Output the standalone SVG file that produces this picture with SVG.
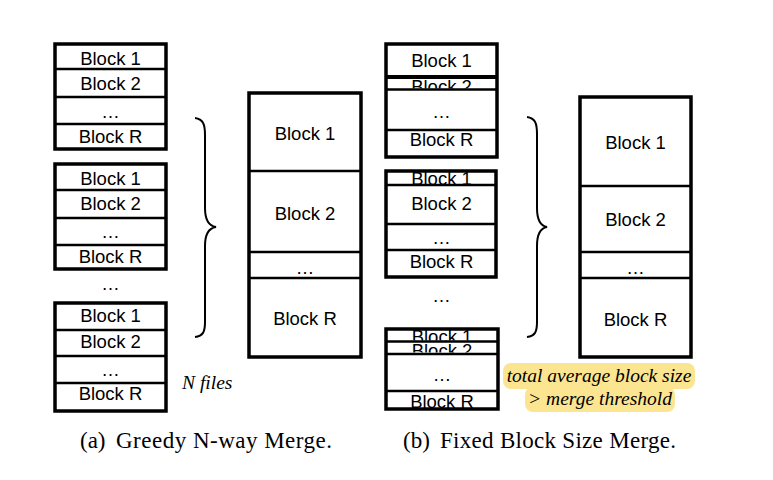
<svg xmlns="http://www.w3.org/2000/svg" width="773" height="480" viewBox="0 0 773 480">
<style>
.ob{fill:none;stroke:#000;stroke-width:3.5}
.ln{stroke:#000;stroke-width:2.6}
.bt{font-family:"Liberation Sans",Arial,sans-serif;font-size:18.5px;fill:#000;text-anchor:middle}
.br{fill:none;stroke:#000;stroke-width:2}
.it{font-family:"Liberation Serif","Times New Roman",serif;font-style:italic;font-size:19.5px;fill:#000}
.cap{font-family:"Liberation Serif","Times New Roman",serif;font-size:23px;fill:#000}
.hl{fill:#FCE591}
</style>
<defs>
<clipPath id="c1"><rect x="385" y="79" width="113" height="9.5"/></clipPath>
<clipPath id="c2"><rect x="385" y="171" width="112" height="13"/></clipPath>
<clipPath id="c3"><rect x="385" y="330" width="114" height="10.5"/></clipPath>
<clipPath id="c4"><rect x="385" y="343" width="114" height="9.5"/></clipPath>
<clipPath id="c5"><rect x="385" y="391" width="114" height="17"/></clipPath>
</defs>
<rect width="773" height="480" fill="#fff"/>

<g id="connectors">
<path class="br" d="M195,118 C203,119 205,124 205,135 L205,208 C205,220 209,226 216,227 C209,228 205,234 205,246 L205,322 C205,332 203,336 195,337"/>
<path class="br" d="M527,117 C535,118 537,123 537,134 L537,208 C537,220 541,226 547,227 C541,228 537,234 537,246 L537,322 C537,332 535,336 527,337"/>
</g>

<g id="file-a1">
<line class="ln" x1="54" y1="69" x2="167" y2="69"/>
<line class="ln" x1="54" y1="97" x2="167" y2="97"/>
<line class="ln" x1="54" y1="124" x2="167" y2="124"/>
<rect class="ob" x="55" y="44" width="111" height="105"/>
<text class="bt" x="110.5" y="65">Block 1</text>
<text class="bt" x="110.5" y="90">Block 2</text>
<text class="bt" x="110.5" y="118">…</text>
<text class="bt" x="110.5" y="143">Block R</text>
</g>

<g id="file-a2">
<line class="ln" x1="54" y1="190" x2="167" y2="190"/>
<line class="ln" x1="54" y1="218" x2="167" y2="218"/>
<line class="ln" x1="54" y1="245" x2="167" y2="245"/>
<rect class="ob" x="55" y="164" width="111" height="105"/>
<text class="bt" x="110.5" y="185">Block 1</text>
<text class="bt" x="110.5" y="210">Block 2</text>
<text class="bt" x="110.5" y="238">…</text>
<text class="bt" x="110.5" y="263">Block R</text>
</g>

<text class="bt" x="110.5" y="290">…</text>

<g id="file-a3">
<line class="ln" x1="54" y1="330" x2="167" y2="330"/>
<line class="ln" x1="54" y1="356" x2="167" y2="356"/>
<line class="ln" x1="54" y1="383" x2="167" y2="383"/>
<rect class="ob" x="55" y="303" width="111" height="108"/>
<text class="bt" x="110.5" y="322">Block 1</text>
<text class="bt" x="110.5" y="348">Block 2</text>
<text class="bt" x="110.5" y="376">…</text>
<text class="bt" x="110.5" y="400">Block R</text>
</g>

<text class="it" x="182" y="389">N files</text>

<g id="merged-a">
<line class="ln" x1="248" y1="171" x2="362" y2="171"/>
<line class="ln" x1="248" y1="252" x2="362" y2="252"/>
<line class="ln" x1="248" y1="278" x2="362" y2="278"/>
<rect class="ob" x="249" y="93" width="112" height="264"/>
<text class="bt" x="305" y="140">Block 1</text>
<text class="bt" x="305" y="220">Block 2</text>
<text class="bt" x="305" y="274">…</text>
<text class="bt" x="305" y="325">Block R</text>
</g>

<g id="file-b1">
<line x1="385" y1="77" x2="498" y2="77" stroke="#000" stroke-width="4"/>
<line class="ln" x1="385" y1="89.5" x2="498" y2="89.5"/>
<line class="ln" x1="385" y1="130" x2="498" y2="130"/>
<rect class="ob" x="386" y="44" width="111" height="113"/>
<text class="bt" x="441.5" y="67">Block 1</text>
<text class="bt" x="441.5" y="93" clip-path="url(#c1)">Block 2</text>
<text class="bt" x="441.5" y="118">…</text>
<text class="bt" x="441.5" y="146">Block R</text>
</g>

<g id="file-b2">
<line class="ln" x1="385" y1="185" x2="497" y2="185"/>
<line class="ln" x1="385" y1="224" x2="497" y2="224"/>
<line class="ln" x1="385" y1="250" x2="497" y2="250"/>
<rect class="ob" x="386" y="171" width="110" height="106"/>
<text class="bt" x="441.5" y="184.5" clip-path="url(#c2)">Block 1</text>
<text class="bt" x="441.5" y="210">Block 2</text>
<text class="bt" x="441.5" y="244">…</text>
<text class="bt" x="441.5" y="268">Block R</text>
</g>

<text class="bt" x="441.5" y="302">…</text>

<g id="file-b3">
<line class="ln" x1="385" y1="341.5" x2="499" y2="341.5"/>
<line class="ln" x1="385" y1="354" x2="499" y2="354"/>
<line class="ln" x1="385" y1="391" x2="499" y2="391"/>
<text class="bt" x="442" y="343" clip-path="url(#c3)">Block 1</text>
<text class="bt" x="442" y="356.5" clip-path="url(#c4)">Block 2</text>
<text class="bt" x="442" y="381">…</text>
<text class="bt" x="442" y="408" clip-path="url(#c5)">Block R</text>
<rect class="ob" x="386" y="329" width="112" height="80"/>
</g>

<g id="merged-b">
<line class="ln" x1="579" y1="186" x2="692" y2="186"/>
<line class="ln" x1="579" y1="252" x2="692" y2="252"/>
<line class="ln" x1="579" y1="278" x2="692" y2="278"/>
<rect class="ob" x="580" y="97" width="111" height="260"/>
<text class="bt" x="635.5" y="149">Block 1</text>
<text class="bt" x="635.5" y="225.5">Block 2</text>
<text class="bt" x="635.5" y="274">…</text>
<text class="bt" x="635.5" y="325.5">Block R</text>
</g>

<g id="threshold-note">
<rect class="hl" x="503" y="363" width="192" height="26" rx="8"/>
<rect class="hl" x="525" y="387" width="150" height="25" rx="8"/>
<text class="it" x="599" y="382" text-anchor="middle">total average block size</text>
<text class="it" x="600" y="405" text-anchor="middle">&gt; merge threshold</text>
</g>

<text class="cap" x="80" y="448">(a)</text>
<text class="cap" x="116" y="448" textLength="216" lengthAdjust="spacing">Greedy N-way Merge.</text>
<text class="cap" x="403" y="448">(b)</text>
<text class="cap" x="440" y="448" textLength="236" lengthAdjust="spacing">Fixed Block Size Merge.</text>
</svg>
